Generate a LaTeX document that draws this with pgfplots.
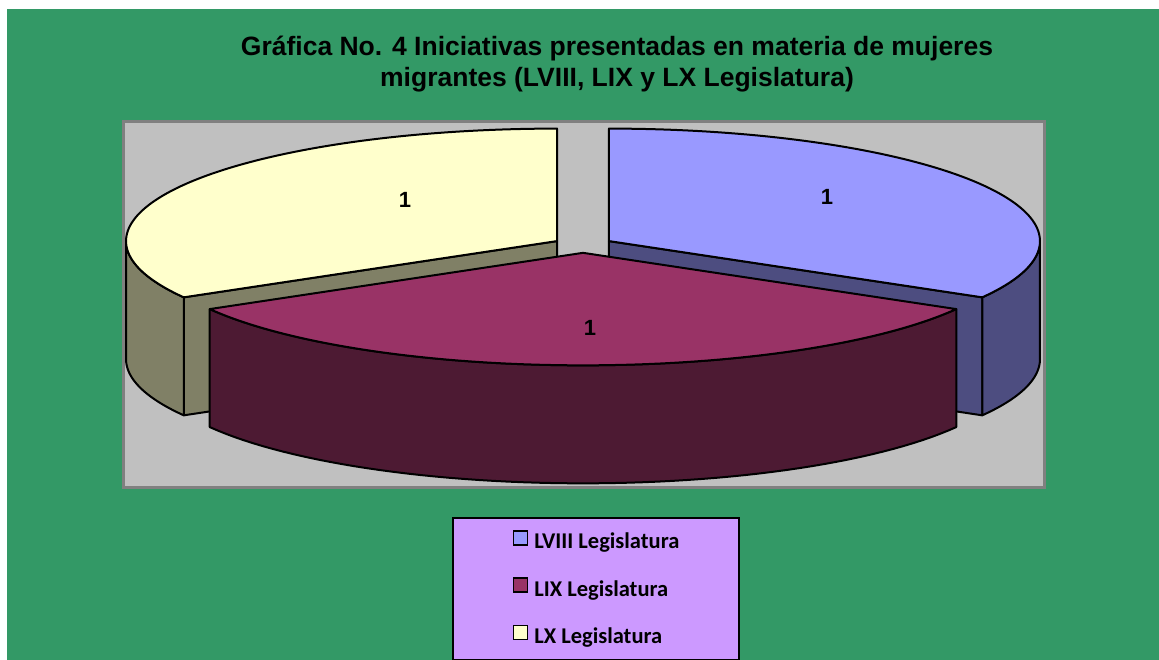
\documentclass[border=0pt]{standalone}
\usepackage{fontspec}
\setmainfont{Liberation Sans}
\newfontfamily\legfont{Carlito}
\usepackage{pgfplots}
\usepackage{pgfplotstable}
\pgfplotsset{compat=1.18}

\definecolor{bgGreen}{HTML}{339966}
\definecolor{plotGray}{HTML}{C0C0C0}
\definecolor{borderGray}{HTML}{808080}
\definecolor{legendC}{HTML}{CC99FF}
\definecolor{blueTop}{HTML}{9999FF}
\definecolor{blueSide}{HTML}{4D4D80}
\definecolor{maroonTop}{HTML}{993366}
\definecolor{maroonSide}{HTML}{4D1A33}
\definecolor{yellowTop}{HTML}{FFFFCC}
\definecolor{yellowSide}{HTML}{808066}

% data: value of each slice, and where its value label sits
\pgfplotstableread{
legis value lx ly
LVIII 1 827 197
LIX   1 590 328
LX    1 405 200
}\datatable

\pgfplotstablegetelem{0}{value}\of\datatable \let\vA\pgfplotsretval
\pgfplotstablegetelem{1}{value}\of\datatable \let\vB\pgfplotsretval
\pgfplotstablegetelem{2}{value}\of\datatable \let\vC\pgfplotsretval

% pie geometry (pixel units)
\def\cx{583}\def\cy{245}\def\rx{431}\def\ry{112.5}\def\hh{118}\def\dd{30}
\pgfmathsetmacro\tot{\vA+\vB+\vC}
\pgfmathsetmacro\aAone{90}
\pgfmathsetmacro\aAtwo{\aAone-360*\vA/\tot}
\pgfmathsetmacro\aBone{\aAtwo}
\pgfmathsetmacro\aBtwo{\aBone-360*\vB/\tot}
\pgfmathsetmacro\aCone{\aBtwo}
\pgfmathsetmacro\aCtwo{\aCone-360*\vC/\tot}
% apex (exploded centre) of each slice
\pgfmathsetmacro\mA{(\aAone+\aAtwo)/2}
\pgfmathsetmacro\mB{(\aBone+\aBtwo)/2}
\pgfmathsetmacro\mC{(\aCone+\aCtwo)/2}
\pgfmathsetmacro\xA{\cx+\dd*cos(\mA)}\pgfmathsetmacro\yA{\cy-\dd*\ry/\rx*sin(\mA)}
\pgfmathsetmacro\xB{\cx+\dd*cos(\mB)}\pgfmathsetmacro\yB{\cy-\dd*\ry/\rx*sin(\mB)}
\pgfmathsetmacro\xC{\cx+\dd*cos(\mC)}\pgfmathsetmacro\yC{\cy-\dd*\ry/\rx*sin(\mC)}
% visible (front) part of each outer wall
\pgfmathsetmacro\loA{max(\aAtwo,-180)}\pgfmathsetmacro\hiA{min(\aAone,0)}
\pgfmathsetmacro\loB{max(\aBtwo,-180)}\pgfmathsetmacro\hiB{min(\aBone,0)}
\pgfmathsetmacro\loC{max(\aCtwo,-180)}\pgfmathsetmacro\hiC{min(\aCone,0)}
% rim points of the visible radial faces
\pgfmathsetmacro\rAx{\xA+\rx*cos(\aAtwo)}\pgfmathsetmacro\rAy{\yA-\ry*sin(\aAtwo)}
\pgfmathsetmacro\rCx{\xC+\rx*cos(\aCone)}\pgfmathsetmacro\rCy{\yC-\ry*sin(\aCone)}

\pgfplotsset{
  pietop/.style n args={4}{% x apex, y apex, from, to
    forget plot, draw=black, line width=2pt, line join=round,
    domain=#4:#3, samples=90, variable=\t},
  piewall/.style={forget plot, draw=black, line width=2pt, line join=round,
    samples at={0,1,...,60,100,101,...,160}, variable=\s},
}

\begin{document}
\begin{tikzpicture}
\begin{axis}[
  width=1159pt, height=660pt, scale only axis,
  xmin=0, xmax=1159, ymin=0, ymax=660, y dir=reverse,
  hide axis, clip=false,
  legend image code/.code={\draw[#1, draw=black, line width=1.6pt] (0pt,-1pt) rectangle (14pt,13pt);},
  legend cell align=left,
  legend style={at={(axis cs:596,517)}, anchor=north, draw=black, line width=2pt,
    fill=legendC, font=\legfont\bfseries\fontsize{22.5}{27}\selectfont,
    inner xsep=60pt, inner ysep=12pt, row sep=23.5pt,
    nodes={inner sep=0pt, text height=15pt, text depth=5pt},
    /tikz/every odd column/.append style={column sep=6pt}},
]
\coordinate (BL) at (axis cs:0,660);
\coordinate (TR) at (axis cs:1159,0);
\fill[white] (axis cs:0,0) rectangle (axis cs:1159,660);
\fill[bgGreen] (axis cs:7,9) rectangle (axis cs:1159,660);
\filldraw[fill=plotGray, draw=borderGray, line width=3pt] (axis cs:123.5,121.5) rectangle (axis cs:1044.5,487.5);

\addlegendimage{fill=blueTop}\addlegendentry{LVIII Legislatura}
\addlegendimage{fill=maroonTop}\addlegendentry{LIX Legislatura}
\addlegendimage{fill=yellowTop}\addlegendentry{LX Legislatura}

% ---- LX (yellow) ----
\addplot[forget plot, fill=yellowSide, draw=black, line width=2pt, line join=round]
  coordinates {(\xC,\yC) (\rCx,\rCy) (\rCx,\rCy+\hh) (\xC,\yC+\hh)} -- cycle;
\addplot[piewall, fill=yellowSide]
  ({\xC+\rx*cos(\s<80 ? \loC+\s/60*(\hiC-\loC) : \hiC-(\s-100)/60*(\hiC-\loC))},
   {\yC-\ry*sin(\s<80 ? \loC+\s/60*(\hiC-\loC) : \hiC-(\s-100)/60*(\hiC-\loC)) + (\s>80)*\hh}) -- cycle;
\addplot[pietop={\xC}{\yC}{\aCone}{\aCtwo}, fill=yellowTop]
  ({\xC+\rx*cos(\t)},{\yC-\ry*sin(\t)}) -- (axis cs:\xC,\yC) -- cycle;

% ---- LVIII (blue) ----
\addplot[forget plot, fill=blueSide, draw=black, line width=2pt, line join=round]
  coordinates {(\xA,\yA) (\rAx,\rAy) (\rAx,\rAy+\hh) (\xA,\yA+\hh)} -- cycle;
\addplot[piewall, fill=blueSide]
  ({\xA+\rx*cos(\s<80 ? \loA+\s/60*(\hiA-\loA) : \hiA-(\s-100)/60*(\hiA-\loA))},
   {\yA-\ry*sin(\s<80 ? \loA+\s/60*(\hiA-\loA) : \hiA-(\s-100)/60*(\hiA-\loA)) + (\s>80)*\hh}) -- cycle;
\addplot[pietop={\xA}{\yA}{\aAone}{\aAtwo}, fill=blueTop]
  ({\xA+\rx*cos(\t)},{\yA-\ry*sin(\t)}) -- (axis cs:\xA,\yA) -- cycle;

% ---- LIX (maroon) ----
\addplot[piewall, fill=maroonSide]
  ({\xB+\rx*cos(\s<80 ? \loB+\s/60*(\hiB-\loB) : \hiB-(\s-100)/60*(\hiB-\loB))},
   {\yB-\ry*sin(\s<80 ? \loB+\s/60*(\hiB-\loB) : \hiB-(\s-100)/60*(\hiB-\loB)) + (\s>80)*\hh}) -- cycle;
\addplot[pietop={\xB}{\yB}{\aBone}{\aBtwo}, fill=maroonTop]
  ({\xB+\rx*cos(\t)},{\yB-\ry*sin(\t)}) -- (axis cs:\xB,\yB) -- cycle;

% ---- value labels ----
\addplot[forget plot, draw=none, mark=none, nodes near coords,
  point meta=explicit symbolic,
  nodes near coords style={anchor=center, font=\bfseries\fontsize{22}{26}\selectfont, text=black}]
  table[x=lx, y=ly, meta=value] {\datatable};

% ---- title ----
\node[align=center, font=\bfseries\fontsize{26.5}{31.5}\selectfont, text=black]
  at (axis cs:617,64) {Gráfica No. 4 Iniciativas presentadas en materia de mujeres\\migrantes (LVIII, LIX y LX Legislatura)};
\end{axis}
\pgfresetboundingbox
\useasboundingbox (BL) rectangle (TR);
\end{tikzpicture}
\end{document}
